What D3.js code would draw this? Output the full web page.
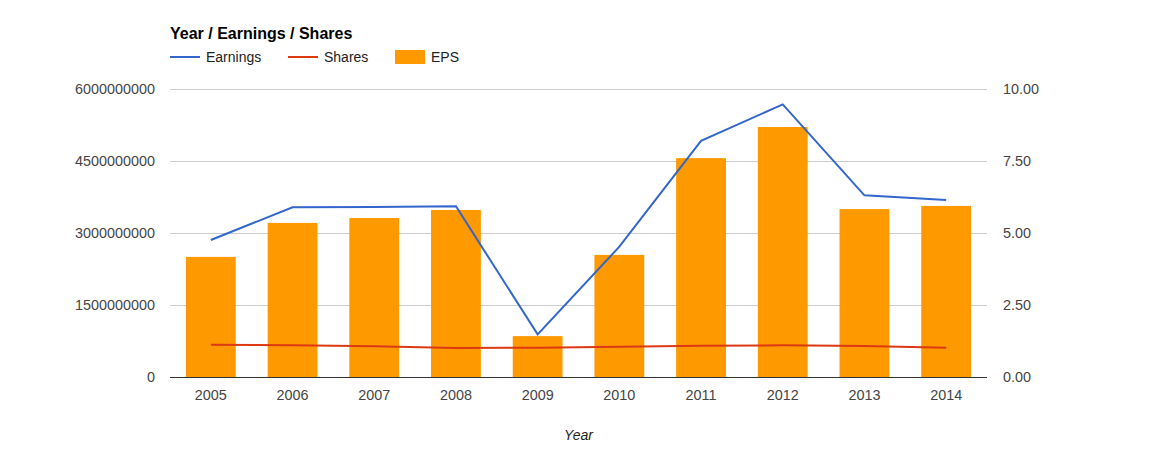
<!DOCTYPE html>
<html>
<head>
<meta charset="utf-8">
<script src="https://cdn.jsdelivr.net/npm/d3@7"></script>
<style>
  body { margin: 0; background: #fff; }
  svg { font-family: "Liberation Sans", Arial, sans-serif; }
</style>
</head>
<body>
<script>
// data
var years = ["2005", "2006", "2007", "2008", "2009", "2010", "2011", "2012", "2013", "2014"];
var earnings = [2.854e9, 3.535e9, 3.54e9, 3.556e9, 0.889e9, 2.715e9, 4.92e9, 5.68e9, 3.785e9, 3.69e9];
var shares = [0.673e9, 0.66e9, 0.64e9, 0.604e9, 0.61e9, 0.63e9, 0.652e9, 0.66e9, 0.646e9, 0.61e9];
var eps = [4.17, 5.35, 5.52, 5.80, 1.42, 4.24, 7.60, 8.68, 5.83, 5.94];
var leftTicks = [0, 1.5e9, 3e9, 4.5e9, 6e9];
var rightTicks = [0, 2.5, 5, 7.5, 10];

var width = 1158, height = 467;
var plot = { left: 170, right: 987, top: 89, bottom: 377 };

var svg = d3.select("body").append("svg")
    .attr("width", width)
    .attr("height", height);

var x = d3.scaleBand()
    .domain(years)
    .range([plot.left, plot.right])
    .paddingInner(0.39)
    .paddingOuter(0.195);

var yLeft = d3.scaleLinear().domain([0, 6e9]).range([plot.bottom, plot.top]);
var yRight = d3.scaleLinear().domain([0, 10]).range([plot.bottom, plot.top]);

// gridlines
svg.append("g")
    .selectAll("line")
    .data(leftTicks.slice(1))
    .join("line")
    .attr("x1", plot.left)
    .attr("x2", plot.right)
    .attr("y1", function (d) { return Math.round(yLeft(d)) + 0.5; })
    .attr("y2", function (d) { return Math.round(yLeft(d)) + 0.5; })
    .style("stroke", "#cccccc")
    .style("stroke-width", 1);

// left axis
var leftAxis = svg.append("g")
    .attr("transform", "translate(" + (plot.left - 15) + ",0)")
    .call(d3.axisLeft(yLeft).tickValues(leftTicks).tickSize(0).tickPadding(0)
        .tickFormat(function (d) { return String(d); }));
leftAxis.select(".domain").remove();

// right axis
var rightAxis = svg.append("g")
    .attr("transform", "translate(" + (plot.right + 16) + ",0)")
    .call(d3.axisRight(yRight).tickValues(rightTicks).tickSize(0).tickPadding(0)
        .tickFormat(d3.format(".2f")));
rightAxis.select(".domain").remove();

// bottom axis labels
var bottomAxis = svg.append("g")
    .attr("transform", "translate(0," + (plot.bottom + 13) + ")")
    .call(d3.axisBottom(x).tickSize(0).tickPadding(0));
bottomAxis.select(".domain").remove();

svg.selectAll(".tick text")
    .style("font-size", "14.4px")
    .style("fill", "#444444")
    .style("font-family", "'Liberation Sans', Arial, sans-serif");

// bars
svg.append("g")
    .selectAll("rect")
    .data(eps)
    .join("rect")
    .attr("x", function (d, i) { return x(years[i]); })
    .attr("width", x.bandwidth())
    .attr("y", function (d) { return yRight(d); })
    .attr("height", function (d) { return plot.bottom - yRight(d); })
    .style("fill", "#ff9900");

// baseline
svg.append("line")
    .attr("x1", plot.left)
    .attr("x2", plot.right)
    .attr("y1", plot.bottom + 0.5)
    .attr("y2", plot.bottom + 0.5)
    .style("stroke", "#333333")
    .style("stroke-width", 1);

// lines
var line = d3.line()
    .x(function (d, i) { return x(years[i]) + x.bandwidth() / 2; })
    .y(function (d) { return yLeft(d); });

svg.append("path")
    .datum(shares)
    .attr("d", line)
    .style("fill", "none")
    .style("stroke", "#dc3912")
    .style("stroke-width", 2);

svg.append("path")
    .datum(earnings)
    .attr("d", line)
    .style("fill", "none")
    .style("stroke", "#3366cc")
    .style("stroke-width", 2);

// title
svg.append("text")
    .attr("x", plot.left)
    .attr("y", 39)
    .style("font-size", "16px")
    .style("font-weight", "bold")
    .style("fill", "#000")
    .text("Year / Earnings / Shares");

// legend
var legendItems = [
    { name: "Earnings", color: "#3366cc", type: "line", x: 170 },
    { name: "Shares", color: "#dc3912", type: "line", x: 288 },
    { name: "EPS", color: "#ff9900", type: "rect", x: 395 }
];

var legend = svg.append("g");
legendItems.forEach(function (item) {
    if (item.type == "line") {
        legend.append("line")
            .attr("x1", item.x)
            .attr("x2", item.x + 30)
            .attr("y1", 57)
            .attr("y2", 57)
            .style("stroke", item.color)
            .style("stroke-width", 2);
    } else {
        legend.append("rect")
            .attr("x", item.x)
            .attr("y", 50)
            .attr("width", 30)
            .attr("height", 14)
            .style("fill", item.color);
    }
    legend.append("text")
        .attr("x", item.x + 36)
        .attr("y", 62)
        .style("font-size", "14px")
        .style("fill", "#222222")
        .text(item.name);
});

// x axis title
svg.append("text")
    .attr("x", (plot.left + plot.right) / 2)
    .attr("y", 440)
    .attr("text-anchor", "middle")
    .style("font-size", "14px")
    .style("font-style", "italic")
    .style("fill", "#222222")
    .text("Year");
</script>
</body>
</html>
